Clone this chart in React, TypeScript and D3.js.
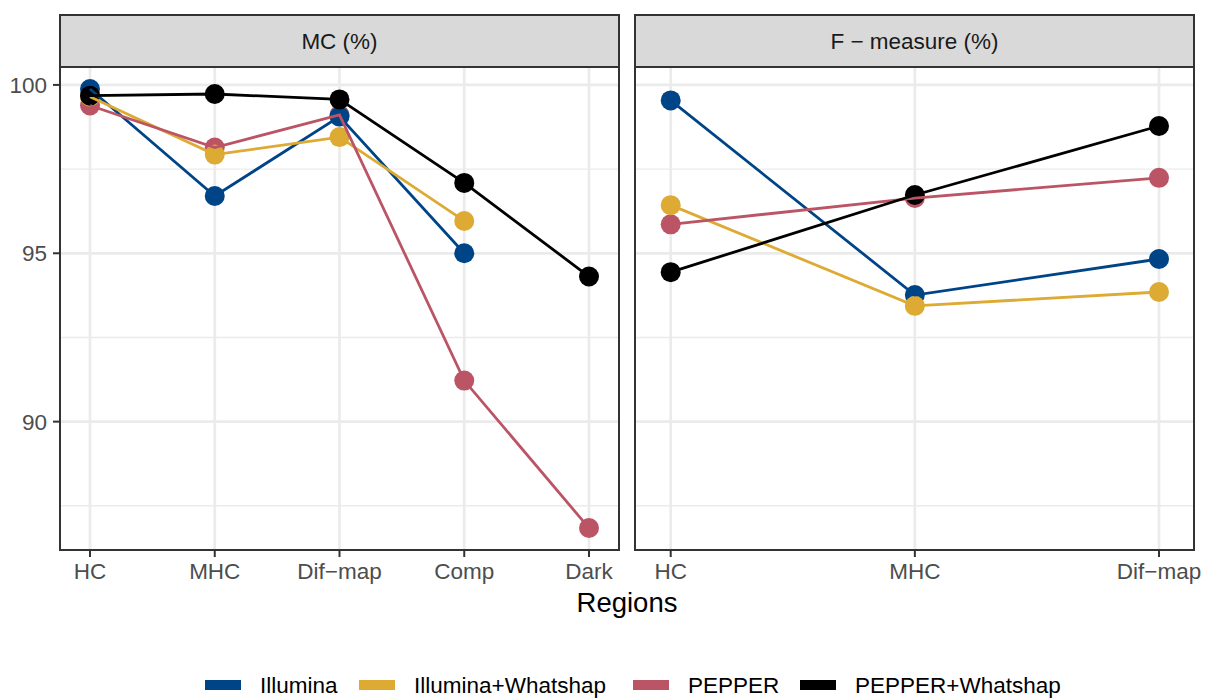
import React from "react";
import * as d3 from "d3";

const series = ["Illumina", "Illumina+Whatshap", "PEPPER", "PEPPER+Whatshap"];
const colors = ["#004488", "#DDAA33", "#BB5566", "#000000"];
// drawing order of points (bottom to top)
const pointOrder = [2, 0, 1, 3];

const mcCategories = ["HC", "MHC", "Dif-map", "Comp", "Dark"];
const mcIllumina = [99.88, 96.7, 99.06, 95.0, null];
const mcIlluminaWH = [99.65, 97.93, 98.45, 95.96, null];
const mcPepper = [99.39, 98.14, 99.11, 91.22, 86.84];
const mcPepperWH = [99.68, 99.73, 99.57, 97.09, 94.31];

const fCategories = ["HC", "MHC", "Dif-map"];
const fIllumina = [99.54, 93.76, 94.83];
const fIlluminaWH = [96.43, 93.44, 93.85];
const fPepper = [95.86, 96.64, 97.24];
const fPepperWH = [94.44, 96.73, 98.78];

const yTicks = [90, 95, 100];
const yMinor = [87.5, 92.5, 97.5];

const facets = [
  { title: "MC (%)", cats: mcCategories, values: [mcIllumina, mcIlluminaWH, mcPepper, mcPepperWH] },
  { title: "F \u2212 measure (%)", cats: fCategories, values: [fIllumina, fIlluminaWH, fPepper, fPepperWH] },
];

const FONT = "'Liberation Sans', Arial, Helvetica, sans-serif";
const W = 1205;
const H = 698;
const panels = [
  { x0: 60, x1: 619, pad0: 30, pad1: 30 },
  { x0: 635, x1: 1194, pad0: 35.7, pad1: 35 },
];
const stripTop = 15;
const panelTop = 67;
const panelBottom = 550;

const legendX = [205, 359, 633, 800];

export default function App() {
  const allVals = facets.flatMap((f) => f.values.flat()).filter((v) => v != null) as number[];
  const [mn, mx] = d3.extent(allVals) as [number, number];
  const ex = (mx - mn) * 0.05;
  const y = d3.scaleLinear().domain([mn - ex, mx + ex]).range([panelBottom, panelTop]);

  const label = (s: string) => s.replace("-", "\u2212");

  return (
    <svg width={W} height={H} style={{ position: "absolute", left: 0, top: 0, background: "#fff" }} fontFamily={FONT}>
      <rect x={0} y={0} width={W} height={H} fill="#fff" />
      {facets.map((f, fi) => {
        const p = panels[fi];
        const x = d3.scalePoint<string>().domain(f.cats).range([p.x0 + p.pad0, p.x1 - p.pad1]);
        const line = d3
          .line<number | null>()
          .defined((d) => d != null)
          .x((_, i) => x(f.cats[i]) as number)
          .y((d) => y(d as number));
        return (
          <g key={fi}>
            <rect x={p.x0} y={panelTop} width={p.x1 - p.x0} height={panelBottom - panelTop} fill="#fff" />
            {yMinor.map((t) => (
              <line key={"mi" + t} x1={p.x0} x2={p.x1} y1={y(t)} y2={y(t)} stroke="#ebebeb" strokeWidth={1.4} />
            ))}
            {yTicks.map((t) => (
              <line key={"ma" + t} x1={p.x0} x2={p.x1} y1={y(t)} y2={y(t)} stroke="#ebebeb" strokeWidth={2.7} />
            ))}
            {f.cats.map((c) => (
              <line key={"v" + c} x1={x(c)} x2={x(c)} y1={panelTop} y2={panelBottom} stroke="#ebebeb" strokeWidth={2.7} />
            ))}
            {pointOrder.map((si) => (
              <g key={"p" + si}>
                {f.values[si].map((v, i) =>
                  v == null ? null : (
                    <circle key={i} cx={x(f.cats[i])} cy={y(v)} r={10} fill={colors[si]} />
                  )
                )}
              </g>
            ))}
            {f.values.map((vals, si) => (
              <path key={"l" + si} d={line(vals) || ""} fill="none" stroke={colors[si]} strokeWidth={2.8} />
            ))}
            <rect x={p.x0} y={panelTop} width={p.x1 - p.x0} height={panelBottom - panelTop} fill="none" stroke="#333333" strokeWidth={2} />
            <rect x={p.x0} y={stripTop} width={p.x1 - p.x0} height={panelTop - stripTop} fill="#d9d9d9" stroke="#333333" strokeWidth={2} />
            <text x={(p.x0 + p.x1) / 2} y={(stripTop + panelTop) / 2} dy="0.35em" textAnchor="middle" fontSize={22.5} fill="#1a1a1a">
              {f.title}
            </text>
            {f.cats.map((c) => (
              <g key={"xt" + c}>
                <line x1={x(c)} x2={x(c)} y1={panelBottom} y2={panelBottom + 7} stroke="#333333" strokeWidth={2} />
                <text x={x(c)} y={panelBottom + 12} dy="0.76em" textAnchor="middle" fontSize={22.5} fill="#4d4d4d">
                  {label(c)}
                </text>
              </g>
            ))}
            {fi === 0 &&
              yTicks.map((t) => (
                <g key={"yt" + t}>
                  <line x1={p.x0 - 7} x2={p.x0} y1={y(t)} y2={y(t)} stroke="#333333" strokeWidth={2} />
                  <text x={p.x0 - 13} y={y(t)} dy="0.36em" textAnchor="end" fontSize={22.5} fill="#4d4d4d">
                    {t}
                  </text>
                </g>
              ))}
          </g>
        );
      })}
      <text x={(panels[0].x0 + panels[1].x1) / 2} y={612} textAnchor="middle" fontSize={27.5} fill="#000">
        Regions
      </text>
      {series.map((s, i) => (
        <g key={"lg" + s}>
          <rect x={legendX[i]} y={680} width={36} height={10} fill={colors[i]} />
          <text x={legendX[i] + 55} y={685} dy="0.36em" fontSize={22.5} fill="#000">
            {s}
          </text>
        </g>
      ))}
    </svg>
  );
}
